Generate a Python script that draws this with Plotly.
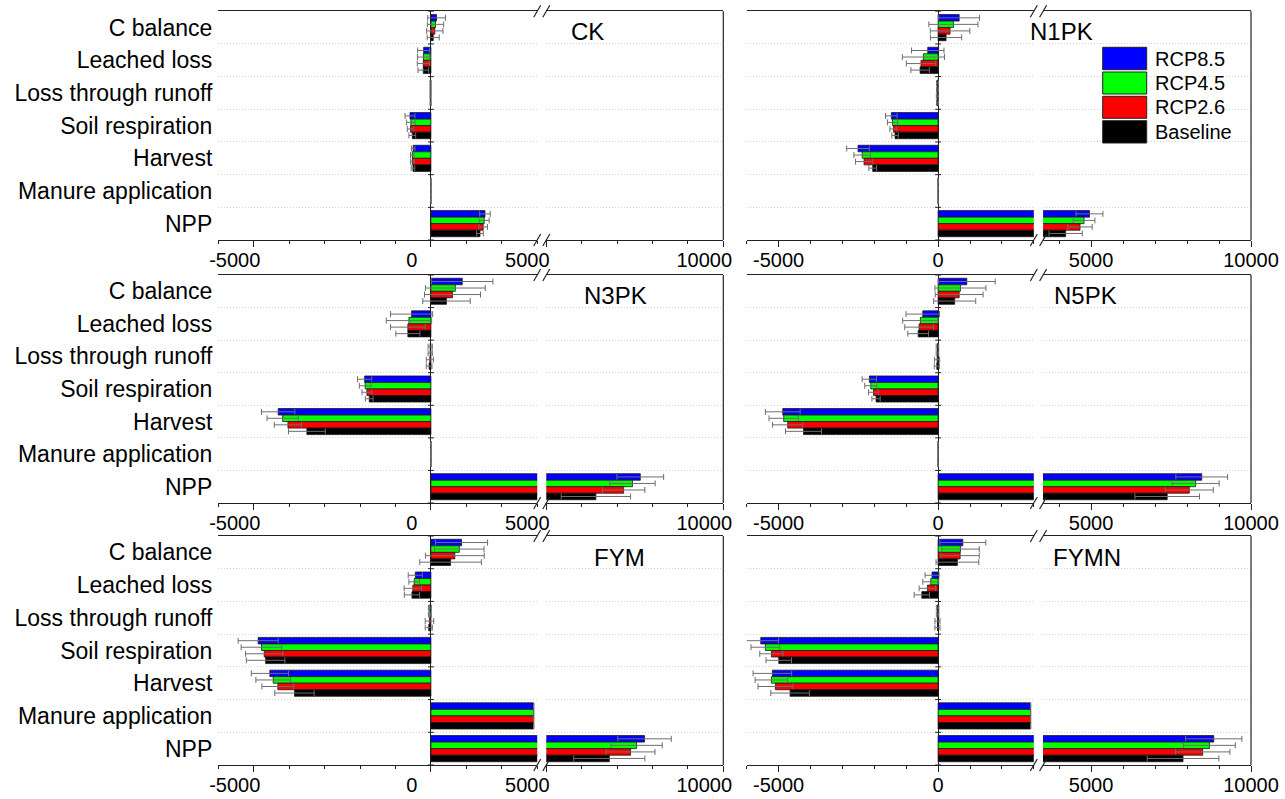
import plotly.graph_objects as go

# ---------------------------------------------------------------- data
CATEGORIES = ["C balance", "Leached loss", "Loss through runoff",
              "Soil respiration", "Harvest", "Manure application", "NPP"]
SCENARIOS = ["RCP8.5", "RCP4.5", "RCP2.6", "Baseline"]
COLORS = ["#0000FF", "#00FF00", "#FF0000", "#000000"]
PANELS = ["CK", "N1PK", "N3PK", "N5PK", "FYM", "FYMN"]
X_TICKS = [-5000, 0, 5000, 10000]
X_TICK_TEXT = ["-5000", "0", "5000", "10000"]

# carbon fluxes per treatment (one list per scenario, ordered as CATEGORIES)
CK_RCP85 = [160, -205, -12, -590, -500, 0, 1525]
CK_RCP45 = [130, -210, -12, -565, -525, 0, 1505]
CK_RCP26 = [110, -215, -12, -575, -525, 0, 1475]
CK_BASE = [65, -215, -10, -525, -505, 0, 1385]
CK_RCP85_SD = [250, 170, 15, 140, 50, None, 150]
CK_RCP45_SD = [230, 170, 15, 120, 50, None, 140]
CK_RCP26_SD = [230, 170, 15, 90, 50, None, 120]
CK_BASE_SD = [170, 150, 15, 95, 50, None, 95]

N1PK_RCP85 = [660, -325, -20, -1465, -2510, 0, 4950]
N1PK_RCP45 = [480, -460, -20, -1430, -2380, 0, 4780]
N1PK_RCP26 = [375, -535, -25, -1400, -2320, 0, 4655]
N1PK_BASE = [250, -565, -20, -1350, -2050, 0, 4205]
N1PK_RCP85_SD = [640, 510, 30, 180, 355, None, 420]
N1PK_RCP45_SD = [770, 660, 30, 160, 260, None, 340]
N1PK_RCP26_SD = [620, 460, 30, 110, 270, None, 380]
N1PK_BASE_SD = [490, 290, 30, 100, 120, None, 520]

N3PK_RCP85 = [885, -545, -20, -1870, -4310, 0, 7655]
N3PK_RCP45 = [690, -620, -20, -1855, -4185, 0, 7435]
N3PK_RCP26 = [610, -650, -30, -1805, -4035, 0, 7185]
N3PK_BASE = [440, -650, -50, -1740, -3500, 0, 6400]
N3PK_RCP85_SD = [865, 595, 60, 200, 470, None, 660]
N3PK_RCP45_SD = [845, 640, 60, 165, 440, None, 640]
N3PK_RCP26_SD = [790, 490, 100, 140, 385, None, 600]
N3PK_BASE_SD = [670, 340, 80, 110, 520, None, 980]

N5PK_RCP85 = [900, -480, -20, -2155, -4870, 0, 8460]
N5PK_RCP45 = [700, -555, -20, -2110, -4840, 0, 8270]
N5PK_RCP26 = [660, -595, -30, -2025, -4715, 0, 8070]
N5PK_BASE = [520, -625, -40, -1945, -4220, 0, 7380]
N5PK_RCP85_SD = [890, 525, 40, 225, 545, None, 810]
N5PK_RCP45_SD = [800, 555, 40, 190, 460, None, 735]
N5PK_RCP26_SD = [750, 450, 80, 155, 475, None, 750]
N5PK_BASE_SD = [660, 325, 80, 130, 565, None, 1010]

FYM_RCP85 = [865, -440, -30, -4875, -4545, 2900, 7775]
FYM_RCP45 = [800, -470, -30, -4780, -4450, 2900, 7550]
FYM_RCP26 = [675, -510, -40, -4705, -4320, 2900, 7380]
FYM_BASE = [555, -535, -60, -4665, -3850, 2900, 6780]
FYM_RCP85_SD = [735, 200, 40, 565, 525, None, 755]
FYM_RCP45_SD = [700, 150, 40, 575, 490, None, 725]
FYM_RCP26_SD = [830, 245, 120, 525, 450, None, 690]
FYM_BASE_SD = [870, 215, 100, 545, 555, None, 1005]

FYMN_RCP85 = [775, -190, -15, -5560, -5195, 2900, 8835]
FYMN_RCP45 = [700, -230, -15, -5415, -5225, 2900, 8700]
FYMN_RCP26 = [690, -335, -20, -5225, -5100, 2900, 8490]
FYMN_BASE = [605, -510, -20, -4995, -4640, 2900, 7875]
FYMN_RCP85_SD = [720, 220, 40, 555, 605, None, 880]
FYMN_RCP45_SD = [590, 250, 40, 450, 510, None, 810]
FYMN_RCP26_SD = [600, 260, 80, 365, 545, None, 850]
FYMN_BASE_SD = [670, 240, 80, 400, 605, None, 1120]

PANEL_VALUES = {
    "CK": [CK_RCP85, CK_RCP45, CK_RCP26, CK_BASE],
    "N1PK": [N1PK_RCP85, N1PK_RCP45, N1PK_RCP26, N1PK_BASE],
    "N3PK": [N3PK_RCP85, N3PK_RCP45, N3PK_RCP26, N3PK_BASE],
    "N5PK": [N5PK_RCP85, N5PK_RCP45, N5PK_RCP26, N5PK_BASE],
    "FYM": [FYM_RCP85, FYM_RCP45, FYM_RCP26, FYM_BASE],
    "FYMN": [FYMN_RCP85, FYMN_RCP45, FYMN_RCP26, FYMN_BASE],
}
PANEL_ERRORS = {
    "CK": [CK_RCP85_SD, CK_RCP45_SD, CK_RCP26_SD, CK_BASE_SD],
    "N1PK": [N1PK_RCP85_SD, N1PK_RCP45_SD, N1PK_RCP26_SD, N1PK_BASE_SD],
    "N3PK": [N3PK_RCP85_SD, N3PK_RCP45_SD, N3PK_RCP26_SD, N3PK_BASE_SD],
    "N5PK": [N5PK_RCP85_SD, N5PK_RCP45_SD, N5PK_RCP26_SD, N5PK_BASE_SD],
    "FYM": [FYM_RCP85_SD, FYM_RCP45_SD, FYM_RCP26_SD, FYM_BASE_SD],
    "FYMN": [FYMN_RCP85_SD, FYMN_RCP45_SD, FYMN_RCP26_SD, FYMN_BASE_SD],
}

# ---------------------------------------------------------------- layout geometry (pixels)
W, H = 1285, 799
FONT = "Liberation Sans, Arial, sans-serif"
# each column has a broken x axis: two segments with the same scale
COLUMNS = [
    dict(seg1=(218.3, 537.2), seg2=(546.3, 723.3),
         r1=(-6000, 3000), r2=(5000, 10000), shift=-19),
    dict(seg1=(746.7, 1033.8), seg2=(1043.1, 1251.0),
         r1=(-6000, 3000), r2=(3500, 10000), shift=0),
]
ROWS = [(11.3, 240.0), (275.0, 503.0), (536.0, 765.0)]
TITLE_POS = {"CK": (587, 32), "N1PK": (1061, 32), "N3PK": (615, 295),
             "N5PK": (1085, 295), "FYM": (619, 557), "FYMN": (1087, 557)}


def px(x):
    return x / W


def py(y):
    return 1 - y / H


def ax_id(n):
    """Plotly axis suffix: '' for the first axis, the number otherwise."""
    return "" if n == 1 else str(n)


fig = go.Figure()
layout = dict(
    width=W, height=H, margin=dict(l=0, r=0, t=0, b=0, autoexpand=False),
    paper_bgcolor="white", plot_bgcolor="white",
    font=dict(family=FONT, color="black"),
    barmode="group", bargap=0.2, bargroupgap=0.0,
    showlegend=False,
)
shapes = []
annotations = []
n_cat = len(CATEGORIES)

for p, name in enumerate(PANELS):
    row, col = divmod(p, 2)
    c = COLUMNS[col]
    top, bottom = ROWS[row]
    xa, xb, ya = ax_id(2 * p + 1), ax_id(2 * p + 2), ax_id(p + 1)

    for seg_axis in (xa, xb):
        for s, scen in enumerate(SCENARIOS):
            fig.add_trace(go.Bar(
                y=CATEGORIES, x=PANEL_VALUES[name][s], orientation="h",
                name=scen, xaxis=f"x{seg_axis}", yaxis=f"y{ya}",
                marker=dict(color=COLORS[s], line=dict(color="#1a1a1a", width=0.8)),
                error_x=dict(type="data", array=PANEL_ERRORS[name][s],
                             color="#6e6e6e", thickness=1, width=3),
                showlegend=False, hoverinfo="x+y+name",
            ))

    for seg_axis, dom, rng, zero in ((xa, c["seg1"], c["r1"], True),
                                     (xb, c["seg2"], c["r2"], False)):
        tv = [v for v in X_TICKS if rng[0] <= v <= rng[1]]
        tt = [X_TICK_TEXT[X_TICKS.index(v)] for v in tv]
        layout[f"xaxis{seg_axis}"] = dict(
            domain=[px(dom[0]), px(dom[1])], anchor=f"y{ya}",
            range=list(rng), tickmode="array", tickvals=tv, ticktext=tt,
            ticks="outside", ticklen=6, tickwidth=1, tickcolor="#222",
            minor=dict(tickmode="linear", tick0=0, dtick=1000, ticks="outside",
                       ticklen=3, tickwidth=1, tickcolor="#222"),
            showline=True, linecolor="#222", linewidth=1.2, mirror=True,
            zeroline=zero, zerolinecolor="#222", zerolinewidth=1.2,
            showgrid=False, tickfont=dict(size=20, family=FONT),
            ticklabelshift=c["shift"], ticklabelstandoff=-4,
            automargin=False, fixedrange=True,
        )
    layout[f"yaxis{ya}"] = dict(
        domain=[py(bottom), py(top)], anchor=f"x{xa}",
        type="category", categoryorder="array", categoryarray=CATEGORIES,
        range=[n_cat - 0.5, -0.5], tickson="boundaries", ticks="",
        showgrid=True, gridcolor="#d4d4d4", griddash="1px,2px", gridwidth=1,
        showline=False, zeroline=False, showticklabels=(col == 0),
        tickfont=dict(size=23, family=FONT), ticklabelstandoff=5,
        automargin=False, fixedrange=True,
    )

    # right frame edge
    shapes.append(dict(type="line", xref=f"x{xb} domain", yref=f"y{ya} domain",
                       x0=1, x1=1, y0=0, y1=1, line=dict(color="#222", width=1.2)))
    # small ticks on the zero line at the category boundaries
    for k in range(n_cat + 1):
        shapes.append(dict(type="line", xref=f"x{xa}", yref=f"y{ya}",
                           xsizemode="pixel", xanchor=0, x0=-3, x1=3,
                           y0=k - 0.5, y1=k - 0.5, line=dict(color="#222", width=1)))
    # axis-break marks on the top and bottom frame lines
    for yb in (top, bottom):
        for xc in (c["seg1"][1], c["seg2"][0]):
            shapes.append(dict(type="line", xref="paper", yref="paper",
                               x0=px(xc - 3.5), y0=py(yb + 6),
                               x1=px(xc + 3.5), y1=py(yb - 6),
                               line=dict(color="#222", width=1.2)))
    tx, ty = TITLE_POS[name]
    annotations.append(dict(text=name, xref="paper", yref="paper", x=px(tx), y=py(ty),
                            xanchor="center", yanchor="middle", showarrow=False,
                            font=dict(size=24, family=FONT, color="black")))

# legend drawn inside the N1PK panel
LEG_X0, LEG_X1, LEG_TEXT_X = 1102.7, 1146.7, 1152.7
LEG_ROWS = [(47.3, 69.7), (72.0, 94.0), (96.3, 118.3), (120.7, 143.0)]
for s, scen in enumerate(SCENARIOS):
    y0, y1 = LEG_ROWS[s]
    shapes.append(dict(type="rect", xref="paper", yref="paper",
                       x0=px(LEG_X0), x1=px(LEG_X1), y0=py(y1), y1=py(y0),
                       fillcolor=COLORS[s], line=dict(color="#222", width=1)))
    annotations.append(dict(text=scen, xref="paper", yref="paper",
                            x=px(LEG_TEXT_X), y=py((y0 + y1) / 2),
                            xanchor="left", yanchor="middle", showarrow=False,
                            font=dict(size=20, family=FONT, color="black")))

layout["shapes"] = shapes
layout["annotations"] = annotations
fig.update_layout(**layout)
fig.write_html("out.html")
